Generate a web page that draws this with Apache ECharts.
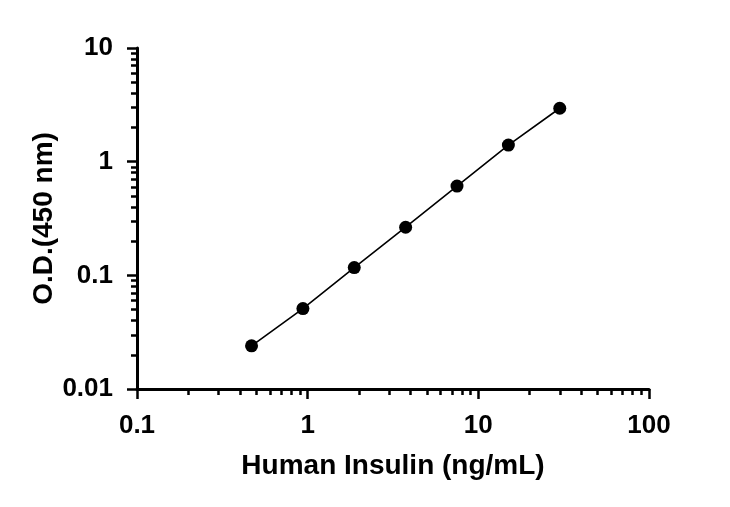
<!DOCTYPE html>
<html>
<head>
<meta charset="UTF-8">
<title>Human Insulin standard curve</title>
<script src="https://cdn.jsdelivr.net/npm/echarts@6/dist/echarts.min.js"></script>
<style>
html, body { margin: 0; padding: 0; background: #fff; }
#chart { width: 730px; height: 507px; }
</style>
</head>
<body>
<div id="chart"></div>
<script type="text/javascript">
// standard curve points
var conc = [0.469, 0.938, 1.875, 3.75, 7.5, 15, 30];
var od = [0.024, 0.051, 0.117, 0.265, 0.61, 1.40, 2.95];

// axis ticks
var xMajor = [0.1, 1, 10, 100];
var xMinor = [0.2, 0.3, 0.4, 0.5, 0.6, 0.7, 0.8, 0.9, 2, 3, 4, 5, 6, 7, 8, 9, 20, 30, 40, 50, 60, 70, 80, 90];
var yMajor = [0.01, 0.1, 1, 10];
var yMinor = [0.02, 0.03, 0.04, 0.05, 0.06, 0.07, 0.08, 0.09, 0.2, 0.3, 0.4, 0.5, 0.6, 0.7, 0.8, 0.9, 2, 3, 4, 5, 6, 7, 8, 9];

var font = 'Liberation Sans, Arial, sans-serif';
var myChart = echarts.init(document.getElementById('chart'));

function fmt(v) {
	return String(parseFloat(Number(v).toPrecision(6)));
}

var pts = [];
for (var i = 0; i < conc.length; i++) {
	pts.push([conc[i], od[i]]);
}

var option = {
	backgroundColor: '#fff',
	animation: false,
	grid: {
		left: 137,
		right: 81,
		top: 48,
		bottom: 118,
		outerBoundsMode: 'none'
	},
	xAxis: [{
		type: 'log',
		logBase: 10,
		min: 0.1,
		max: 100,
		position: 'bottom',
		name: 'Human Insulin (ng/mL)',
		nameLocation: 'middle',
		nameGap: 63,
		nameMoveOverlap: false,
		nameTextStyle: { fontFamily: font, fontWeight: 'bold', fontSize: 28, color: '#000' },
		axisLine: { onZero: false, lineStyle: { color: '#000', width: 3 } },
		axisTick: { show: true, inside: false, length: 10, customValues: xMajor, lineStyle: { color: '#000', width: 2.5 } },
		axisLabel: { customValues: xMajor, margin: 24, fontFamily: font, fontWeight: 'bold', fontSize: 26, color: '#000', formatter: fmt },
		splitLine: { show: false }
	}, {
		// minor ticks
		type: 'log',
		logBase: 10,
		min: 0.1,
		max: 100,
		position: 'bottom',
		axisLine: { show: false, onZero: false },
		axisTick: { show: true, inside: false, length: 6, customValues: xMinor, lineStyle: { color: '#000', width: 2.5 } },
		axisLabel: { show: false },
		splitLine: { show: false }
	}],
	yAxis: [{
		type: 'log',
		logBase: 10,
		min: 0.01,
		max: 10,
		position: 'left',
		name: 'O.D.(450 nm)',
		nameLocation: 'middle',
		nameGap: 79,
		nameMoveOverlap: false,
		nameTextStyle: { fontFamily: font, fontWeight: 'bold', fontSize: 28, color: '#000' },
		axisLine: { onZero: false, lineStyle: { color: '#000', width: 3 } },
		axisTick: { show: true, inside: false, length: 10, customValues: yMajor, lineStyle: { color: '#000', width: 2.5 } },
		axisLabel: { customValues: yMajor, margin: 24, fontFamily: font, fontWeight: 'bold', fontSize: 26, color: '#000', formatter: fmt },
		splitLine: { show: false }
	}, {
		type: 'log',
		logBase: 10,
		min: 0.01,
		max: 10,
		position: 'left',
		axisLine: { show: false, onZero: false },
		axisTick: { show: true, inside: false, length: 6, customValues: yMinor, lineStyle: { color: '#000', width: 2.5 } },
		axisLabel: { show: false },
		splitLine: { show: false }
	}],
	series: [{
		type: 'line',
		xAxisIndex: 0,
		yAxisIndex: 0,
		data: pts,
		symbol: 'circle',
		symbolSize: 13,
		showAllSymbol: true,
		lineStyle: { color: '#000', width: 1.6 },
		itemStyle: { color: '#000' }
	}]
};
myChart.setOption(option);
</script>
</body>
</html>
